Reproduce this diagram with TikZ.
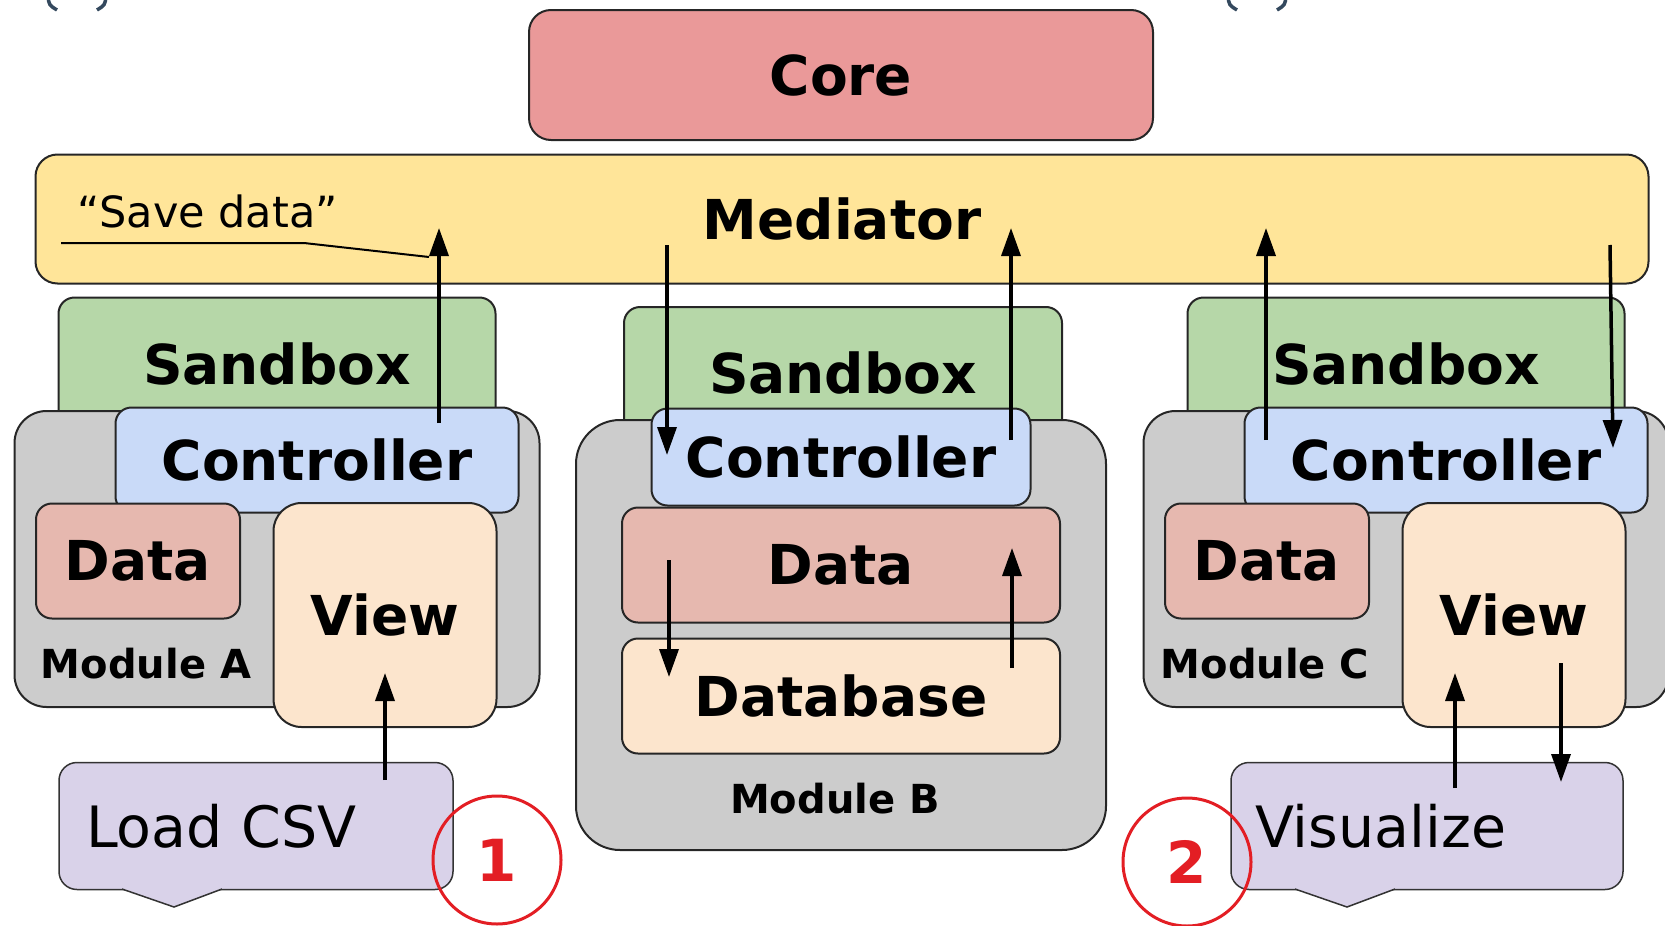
\documentclass[tikz,border=0pt]{standalone}
\usepackage{fontspec}
\setmainfont{DejaVu Sans}
\usetikzlibrary{arrows.meta}

\definecolor{corered}{HTML}{EA9999}
\definecolor{medyellow}{HTML}{FFE599}
\definecolor{sandgreen}{HTML}{B6D7A8}
\definecolor{ctrlblue}{HTML}{C9DAF8}
\definecolor{datared}{HTML}{E6B8AF}
\definecolor{vieworange}{HTML}{FCE5CD}
\definecolor{modgray}{HTML}{CCCCCC}
\definecolor{callpurple}{HTML}{D9D2E9}
\definecolor{markred}{HTML}{E31E24}
\definecolor{parenblue}{HTML}{34495E}

\newcommand{\boxfont}{\fontsize{55}{60}\selectfont\bfseries}
\newcommand{\modfont}{\fontsize{40}{44}\selectfont\bfseries}
\newcommand{\callfont}{\fontsize{57}{62}\selectfont}
\newcommand{\notefont}{\fontsize{43}{48}\selectfont}
\newcommand{\markfont}{\fontsize{58}{62}\selectfont\bfseries}

\begin{document}
\begin{tikzpicture}[x=1pt,y=-1pt]
    \useasboundingbox (0,0) rectangle (1665,926);
    \clip (0,0) rectangle (1665,926);

    \tikzset{
        box/.style={draw=black!85, line width=2pt, rounded corners=16pt, inner sep=0pt, font=\boxfont},
        modlabel/.style={anchor=base, inner sep=0pt, font=\modfont},
        callout/.style={draw=black!80, line width=1.5pt, fill=callpurple, rounded corners=18pt,
            minimum height=127pt, inner ysep=0pt, align=left, font=\callfont},
        flow/.style={line width=3.5pt, -{Triangle[length=28pt,width=19pt]}},
        stepmark/.style={circle, draw=markred, line width=3pt, minimum size=128pt, inner sep=0pt,
            text=markred, font=\markfont}
    }

    % cut-off brackets along the top edge
    \foreach \x in {48, 1228} {
        \draw[parenblue, line width=3.5pt] (\x,-4) .. controls (\x+1,5) .. (\x+9,10);
        \draw[parenblue, line width=3.5pt] (\x+58,-4) .. controls (\x+57,5) .. (\x+49,10);
    }

    \node[box, fill=corered, rounded corners=22pt, minimum width=624pt, minimum height=130pt] (core) at (841,75) {Core};
    \node[box, fill=medyellow, rounded corners=22pt, minimum width=1613pt, minimum height=129pt] (med) at (842,219) {Mediator};

    % modules with a view
    \foreach \m/\dx/\lx in {A/0/146, C/1129/1265} {
        \node[box, fill=sandgreen, minimum width=437pt, minimum height=133pt] (sand\m) at (277+\dx,364) {Sandbox};
        \node[box, fill=modgray, rounded corners=32pt, minimum width=525pt, minimum height=296pt] (mod\m) at (277+\dx,559) {};
        \node[box, fill=ctrlblue, minimum width=403pt, minimum height=105pt] (ctrl\m) at (317+\dx,460) {Controller};
        \node[box, fill=datared, minimum width=204pt, minimum height=115pt] (data\m) at (138+\dx,561) {Data};
        \node[box, fill=vieworange, rounded corners=28pt, minimum width=223pt, minimum height=224pt] (view\m) at (385+\dx,615) {View};
        \node[modlabel] (lbl\m) at (\lx,678) {Module \m};
    }

    % module with the database
    \node[box, fill=sandgreen, minimum width=438pt, minimum height=132pt] (sandB) at (843,373) {Sandbox};
    \node[box, fill=modgray, rounded corners=44pt, minimum width=530pt, minimum height=430pt] (modB) at (841,635) {};
    \node[box, fill=ctrlblue, minimum width=379pt, minimum height=97pt] (ctrlB) at (841,457) {Controller};
    \node[box, fill=datared, minimum width=438pt, minimum height=115pt] (dataB) at (841,565) {Data};
    \node[box, fill=vieworange, minimum width=438pt, minimum height=115pt] (dbB) at (841,696) {Database};
    \node[modlabel] (lblB) at (835,813) {Module B};

    % user actions
    \node[callout, text width=340pt, inner xsep=27pt] (csv) at (256,826) {Load CSV};
    \node[callout, text width=344pt, inner xsep=24pt] (vis) at (1427,826) {Visualize};
    \foreach \px in {174, 1347} {
        \fill[callpurple] (\px-52,886) -- (\px-52,889) -- (\px,907) -- (\px+48,889) -- (\px+48,886) -- cycle;
        \draw[black!80, line width=1.5pt] (\px-52,889) -- (\px,907) -- (\px+48,889);
    }

    \node[stepmark] (one) at (497,860) {1};
    \node[stepmark] (two) at (1187,862) {2};

    % message flow
    \coordinate (tip) at (0,228);
    \coordinate (vtip) at (0,673);
    \draw[flow] (ctrlA.center) ++(122,-37) coordinate (upA) -- (upA |- tip);
    \draw[flow] (csv.center) ++(129,-46) coordinate (inA) -- (inA |- vtip);
    \draw[flow] (med.center) ++(-175,26) coordinate (downB) -- ++(0,210);
    \draw[flow] (ctrlB.center) ++(170,-17) coordinate (upB) -- (upB |- tip);
    \draw[flow] (dataB.center) ++(-172,-5) -- ++(0,117);
    \draw[flow] (dbB.center) ++(171,-28) -- ++(0,-120);
    \draw[flow] (ctrlC.center) ++(-180,-20) coordinate (upC) -- (upC |- tip);
    \draw[flow] (med.center) ++(768,26) -- ++(3,203);
    \draw[flow] (vis.center) ++(28,-38) coordinate (inC) -- (inC |- vtip);
    \draw[flow] (viewC.center) ++(47,48) -- ++(0,119);

    \node[anchor=base west, inner sep=0pt, font=\notefont] (save) at (77,227) {“Save data”};
    \draw[line width=2pt] (save.base west) ++(-16,16) -- ++(243,0) -- ([shift={(-10,29)}]upA |- tip);
\end{tikzpicture}
\end{document}
